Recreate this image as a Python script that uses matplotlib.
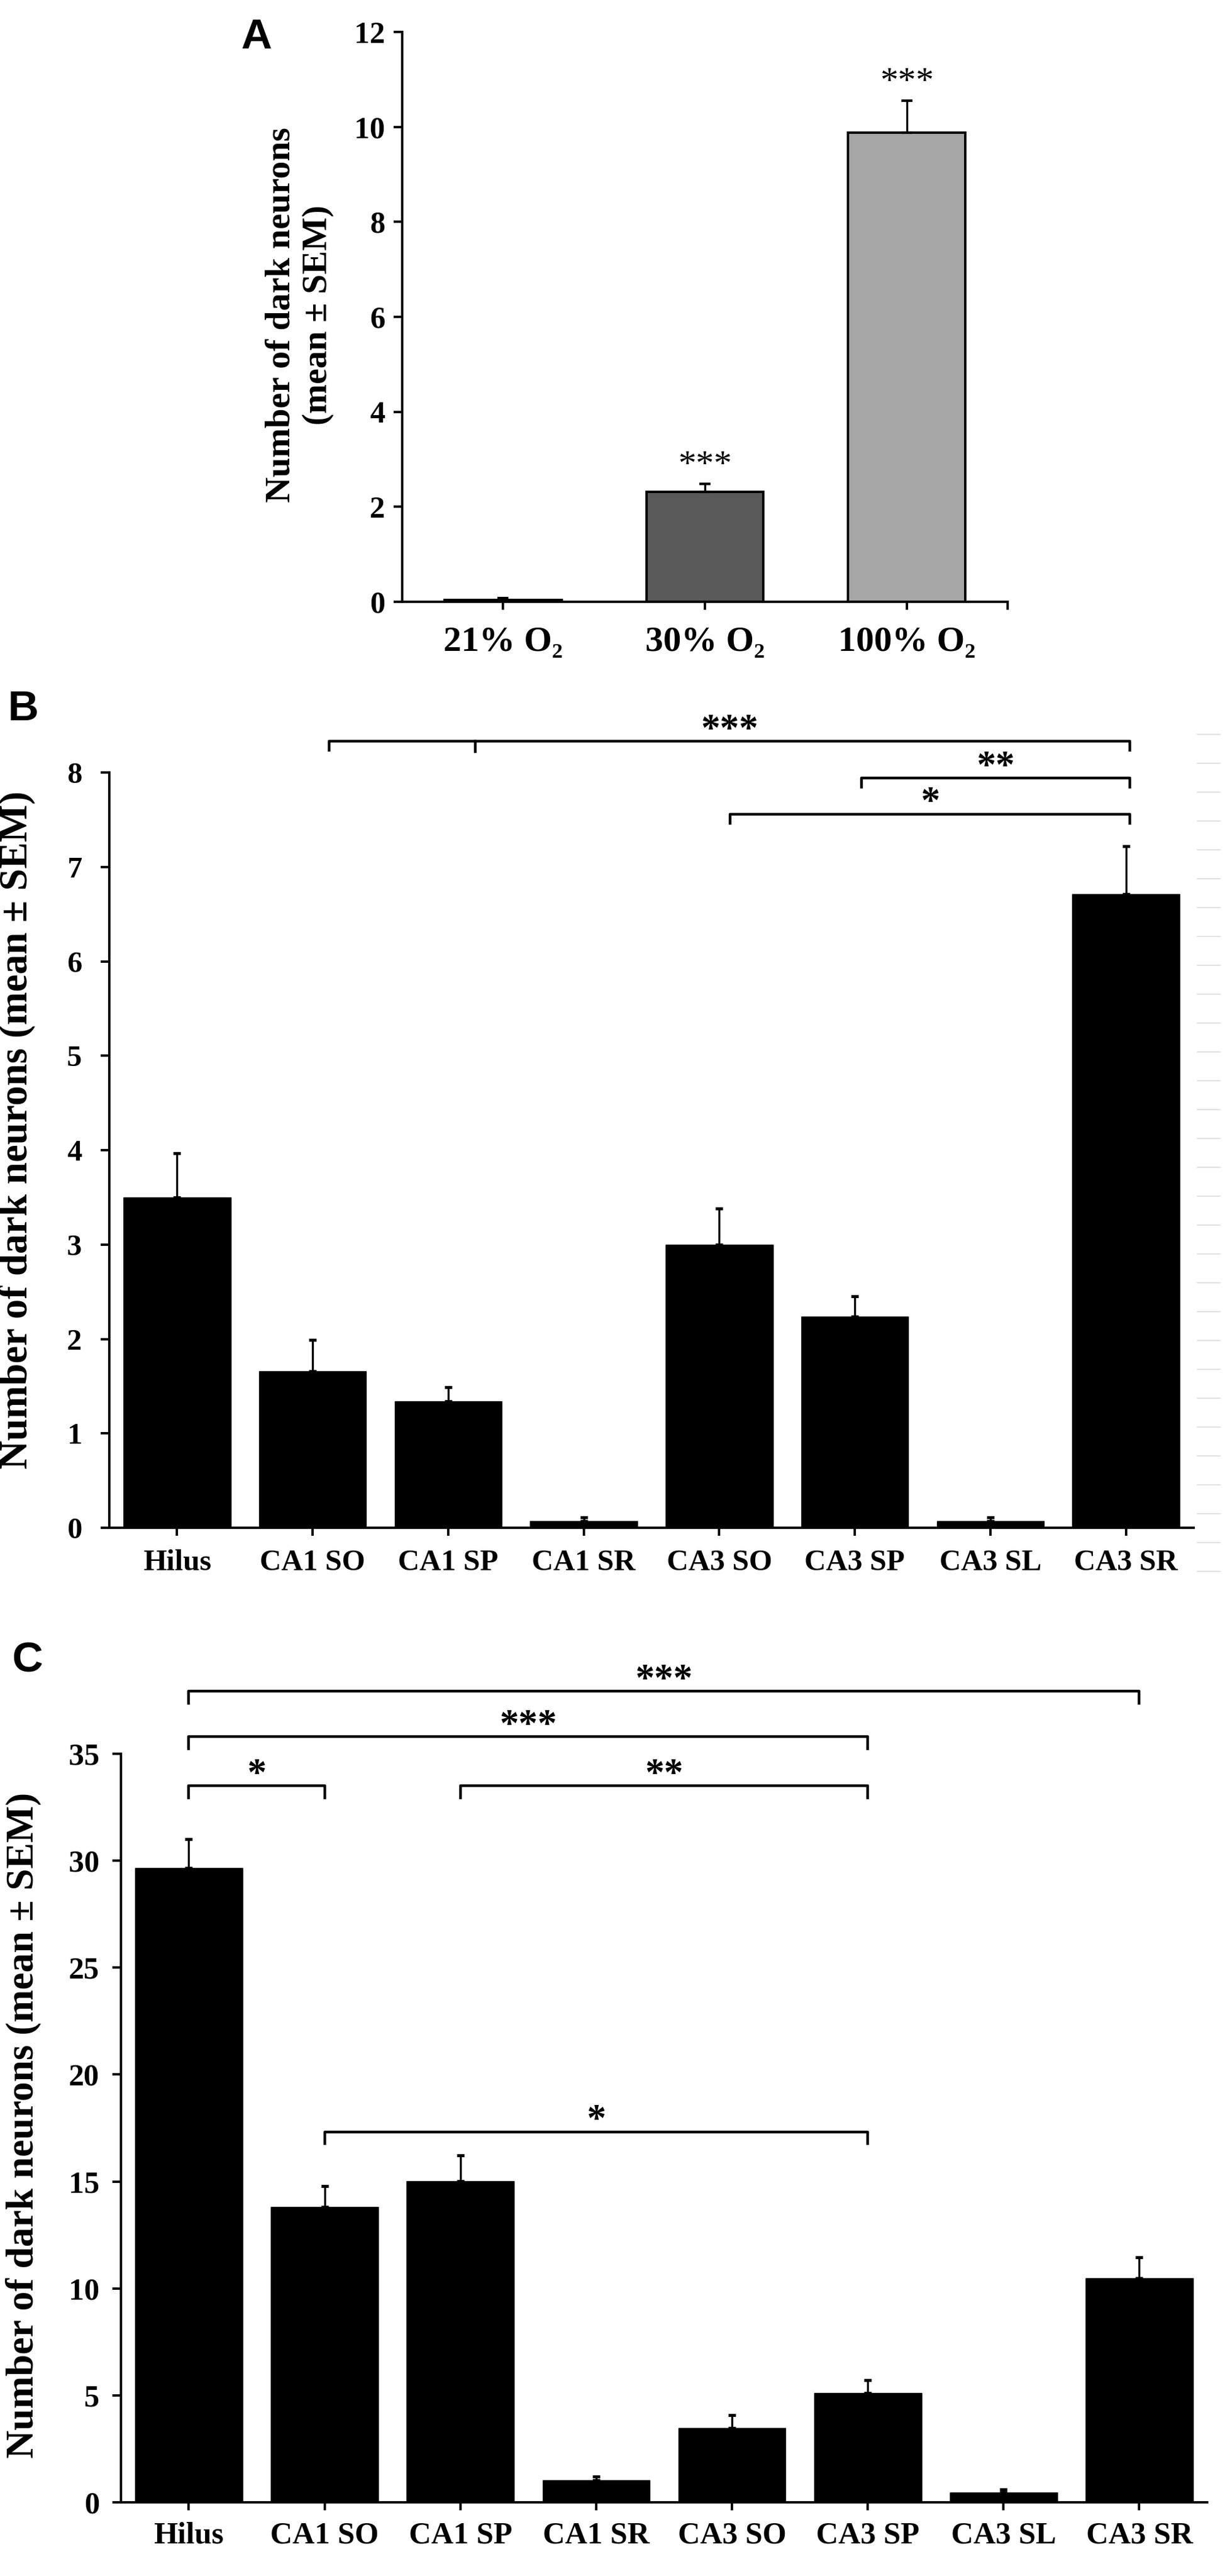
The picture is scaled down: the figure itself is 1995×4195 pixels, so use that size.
import numpy as np
import matplotlib.pyplot as plt

plt.rcParams['font.family'] = ['Liberation Serif', 'DejaVu Serif']
plt.rcParams['font.weight'] = 'bold'

# Panel A data
a_labels = ['21% O\u2082', '30% O\u2082', '100% O\u2082']
a_means = [0.04, 2.32, 9.88]
a_sem = [0.04, 0.16, 0.67]
a_colors = ['white', '#595959', '#a6a6a6']
a_stars = ['', '***', '***']

# Panels B and C share the regions
regions = ['Hilus', 'CA1 SO', 'CA1 SP', 'CA1 SR', 'CA3 SO', 'CA3 SP', 'CA3 SL', 'CA3 SR']

b_means = [3.50, 1.66, 1.34, 0.075, 3.00, 2.24, 0.075, 6.71]
b_sem = [0.47, 0.33, 0.15, 0.035, 0.38, 0.21, 0.035, 0.51]
# (left x, right x, height, label)
b_brackets = [(1.12, 7.03, 8.33, '***'), (5.05, 7.03, 7.94, '**'), (4.08, 7.03, 7.56, '*')]
b_extra_ticks = [(2.20, 8.33)]

c_means = [29.67, 13.81, 15.02, 1.02, 3.47, 5.12, 0.47, 10.49]
c_sem = [1.35, 0.99, 1.20, 0.20, 0.62, 0.60, 0.13, 0.98]
c_brackets = [(0, 7, 37.92, '***'), (0, 5, 35.8, '***'), (0, 1, 33.5, '*'),
              (2, 5, 33.5, '**'), (1, 5, 17.32, '*')]

fig = plt.figure(figsize=(19.95, 41.95), dpi=100)


def style_axes(ax, lw=2.75):
    for s in ['top', 'right']:
        ax.spines[s].set_visible(False)
    for s in ['left', 'bottom']:
        ax.spines[s].set_linewidth(lw)
    ax.tick_params(axis='y', direction='out', length=10, width=lw)
    ax.tick_params(axis='x', direction='out', length=9, width=lw)


def draw_brackets(ax, brackets, drop, fs):
    for x1, x2, h, lab in brackets:
        ax.plot([x1, x1, x2, x2], [h - drop, h, h, h - drop], color='black',
                lw=3.2, clip_on=False, solid_capstyle='butt')
        ax.annotate(lab, xy=((x1 + x2) / 2, h), xytext=(0, 1), textcoords='offset points',
                    ha='center', va='baseline', fontsize=fs, fontweight='bold',
                    annotation_clip=False)


# ---------- Panel A ----------
axA = fig.add_axes([0.3283, 0.7664, 0.4943, 0.2212])
xa = np.arange(len(a_labels))
axA.bar(xa, a_means, width=0.58, color=a_colors, edgecolor='black', linewidth=2.8)
axA.errorbar(xa, a_means, yerr=[np.zeros(3), a_sem], fmt='none', ecolor='black',
             elinewidth=2.4, capsize=6.5, capthick=3)
for i, s in enumerate(a_stars):
    if s:
        axA.annotate(s, xy=(i, a_means[i] + a_sem[i]), xytext=(0, 11), textcoords='offset points',
                     ha='center', va='baseline', fontsize=42, fontweight='normal')
axA.set_xlim(-0.5, 2.5)
axA.set_ylim(0, 12)
axA.set_yticks(range(0, 13, 2))
axA.set_xticks(list(xa) + [2.5])
axA.set_xticklabels(a_labels + [''])
style_axes(axA)
axA.tick_params(axis='x', labelsize=42, pad=20)
axA.tick_params(axis='y', labelsize=36, pad=10)
fig.text(0.2444, 0.8777, 'Number of dark neurons\n(mean \u00b1 SEM)', rotation=90,
         ha='center', va='center', fontsize=41.5, fontweight='bold', linespacing=1.2)
fig.text(0.209, 0.9855, 'A', family='Liberation Sans', fontsize=50, fontweight='bold',
         ha='center', va='center')

# ---------- Panel B ----------
axB = fig.add_axes([0.0892, 0.4069, 0.8852, 0.2932])
xb = np.arange(len(regions))
axB.bar(xb, b_means, width=0.79, color='black', edgecolor='black', linewidth=1)
axB.errorbar(xb, b_means, yerr=[np.zeros(8), b_sem], fmt='none', ecolor='black',
             elinewidth=2.4, capsize=4.5, capthick=3.5)
axB.set_xlim(-0.5, 7.5)
axB.set_ylim(0, 8)
axB.set_xticks(xb)
axB.set_xticklabels(regions)
style_axes(axB)
axB.tick_params(axis='x', labelsize=35, pad=16)
axB.tick_params(axis='y', labelsize=35, pad=22)
draw_brackets(axB, b_brackets, 0.11, 45)
for x, h in b_extra_ticks:
    axB.plot([x, x], [h - 0.11, h], color='black', lw=3.2, clip_on=False)
fig.text(0.014, 0.5614, 'Number of dark neurons (mean \u00b1 SEM)', rotation=90,
         ha='center', va='center', fontsize=46.5, fontweight='bold')
fig.text(0.019, 0.7247, 'B', family='Liberation Sans', fontsize=50, fontweight='bold',
         ha='center', va='center')

# faint gridline stubs to the right of panel B
for k in range(30):
    y = 1 - (1196 + 47 * k) / 4195
    fig.add_artist(plt.Line2D([0.9775, 0.996], [y, y], color='#dcdcdc', lw=1.2))

# ---------- Panel C ----------
axC = fig.add_axes([0.0987, 0.0286, 0.8868, 0.2906])
xc = np.arange(len(regions))
axC.bar(xc, c_means, width=0.79, color='black', edgecolor='black', linewidth=1)
axC.errorbar(xc, c_means, yerr=[np.zeros(8), c_sem], fmt='none', ecolor='black',
             elinewidth=2.4, capsize=4.5, capthick=3.5)
axC.set_xlim(-0.5, 7.5)
axC.set_ylim(0, 35)
axC.set_yticks(range(0, 36, 5))
axC.set_xticks(xc)
axC.set_xticklabels(regions)
style_axes(axC)
axC.tick_params(axis='x', labelsize=36, pad=14)
axC.tick_params(axis='y', labelsize=36, pad=15)
draw_brackets(axC, c_brackets, 0.62, 45)
fig.text(0.019, 0.175, 'Number of dark neurons (mean \u00b1 SEM)', rotation=90,
         ha='center', va='center', fontsize=45.7, fontweight='bold')
fig.text(0.0223, 0.3552, 'C', family='Liberation Sans', fontsize=50, fontweight='bold',
         ha='center', va='center')

fig.savefig('out.png', dpi=100)
